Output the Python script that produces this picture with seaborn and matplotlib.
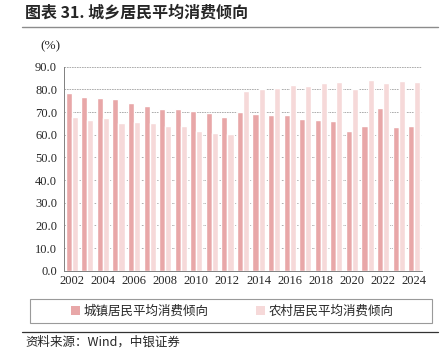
import matplotlib
matplotlib.use("Agg")
import matplotlib.pyplot as plt
from matplotlib.patches import Rectangle
from matplotlib.lines import Line2D
import seaborn as sns
import pandas as pd
import numpy as np

years = list(range(2002, 2025))
urban = [78.3, 76.8, 76.0, 75.6, 73.8, 72.5, 71.2, 71.2, 70.5, 69.6, 67.8,
         70.0, 69.3, 68.5, 68.6, 67.1, 66.5, 66.2, 61.6, 63.9, 71.9, 63.6, 63.9]
rural = [67.7, 66.3, 67.3, 65.1, 65.7, 65.1, 63.8, 63.7, 61.8, 60.6, 60.3,
         79.3, 80.0, 80.7, 81.9, 81.5, 82.9, 83.2, 80.0, 84.1, 82.6, 83.7, 83.4]
series_names = ["城镇居民平均消费倾向", "农村居民平均消费倾向"]
colors = ["#E8A7A8", "#F6D9D9"]

df = pd.DataFrame({
    "year": [str(y) for y in years] * 2,
    "value": urban + rural,
    "series": [series_names[0]] * len(years) + [series_names[1]] * len(years),
})

sns.set_style("white")
cjk = ["Noto Sans CJK SC", "DejaVu Sans"]
serif = ["Liberation Serif", "DejaVu Serif"]
plt.rcParams["font.family"] = cjk

W, H = 442, 356
fig = plt.figure(figsize=(W / 100, H / 100), dpi=100)
ax = fig.add_axes([64 / W, 1 - 270.7 / H, 358 / W, 204 / H])

sns.barplot(data=df, x="year", y="value", hue="series", palette=colors,
            width=0.78, gap=0, saturation=1, ax=ax, legend=False)

ax.set_ylim(0, 90)
ax.set_xlim(-0.5, len(years) - 0.5)
ax.set_yticks(np.arange(0, 91, 10))
ax.set_yticklabels([f"{v:.1f}" for v in np.arange(0, 91, 10)],
                   family=serif, fontsize=9)
ax.yaxis.grid(True, color="#a0a0a0", linestyle=(0, (2, 1)), linewidth=0.6)
ax.set_axisbelow(True)

ax.set_xticks(range(0, len(years), 2))
ax.set_xticklabels([str(y) for y in years[::2]], family=serif, fontsize=9)
ax.set_xticks(np.arange(-0.5, len(years), 1), minor=True)
ax.tick_params(axis="x", which="major", length=0, pad=3)
ax.tick_params(axis="x", which="minor", length=4, color="#808080", width=0.6)
ax.tick_params(axis="y", length=3, color="#808080", width=0.6, pad=2)
ax.set_xlabel("")
ax.set_ylabel("")
for side in ["top", "right"]:
    ax.spines[side].set_visible(False)
for side in ["left", "bottom"]:
    ax.spines[side].set_color("#808080")
    ax.spines[side].set_linewidth(0.7)

# title and rules
fig.text(25 / W, 1 - 13 / H, "图表 31. 城乡居民平均消费倾向", fontsize=11.5,
         fontweight="bold", va="center", ha="left", family=cjk)
fig.add_artist(Line2D([22 / W, 438 / W], [1 - 27 / H, 1 - 27 / H],
                      color="#8c8c8c", linewidth=1.0))
fig.text(40 / W, 1 - 46 / H, "(%)", fontsize=9.5, va="center", ha="left",
         family=serif)

# legend box
fig.add_artist(Rectangle((30 / W, 1 - 323 / H), 402 / W, 24 / H,
                         transform=fig.transFigure, fill=False,
                         edgecolor="#9a9a9a", linewidth=0.8))
handles = [Rectangle((0, 0), 1, 1, facecolor=c, edgecolor="none") for c in colors]
fig.legend(handles, series_names, loc="center", ncol=2, frameon=False,
           bbox_to_anchor=(232 / W, 1 - 311 / H), fontsize=9,
           handlelength=0.7, handleheight=0.7, handletextpad=0.3,
           columnspacing=3.8)

fig.add_artist(Line2D([22 / W, 438 / W], [1 - 332 / H, 1 - 332 / H],
                      color="#333333", linewidth=0.9))
fig.text(25 / W, 1 - 342 / H, "资料来源：Wind，中银证券", fontsize=9,
         style="italic", va="center", ha="left", family=cjk)

fig.savefig("out.png", dpi=100)
